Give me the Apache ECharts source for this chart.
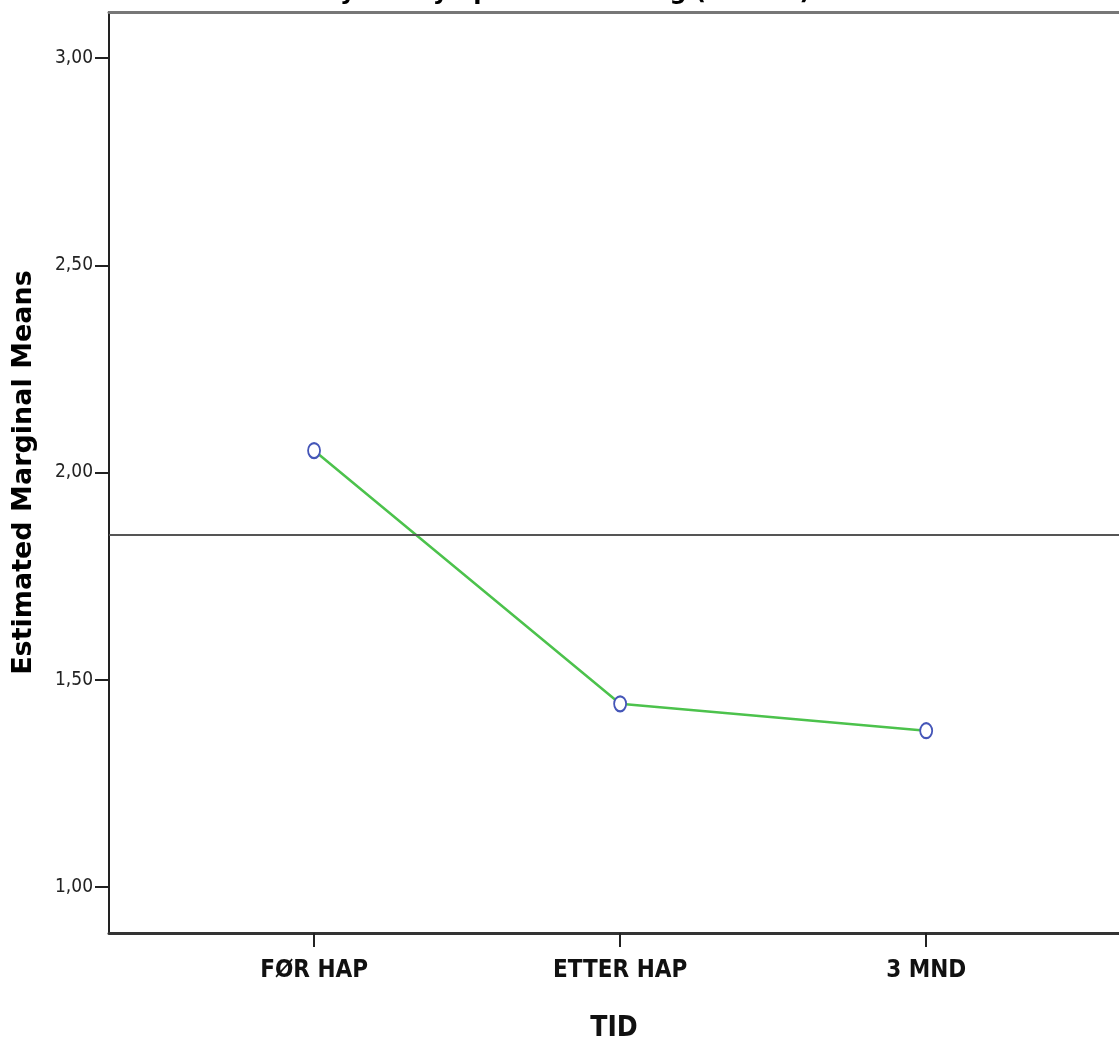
<!DOCTYPE html>
<html><head><meta charset="utf-8">
<script src="https://cdn.jsdelivr.net/npm/echarts@6/dist/echarts.min.js"></script>
<style>html,body{margin:0;padding:0;background:#fff}#c{width:1119px;height:1044px}</style>
</head><body><div id="c"></div>
<script>
const categories = ['FØR HAP', 'ETTER HAP', '3 MND'];
const means = [2.053, 1.442, 1.377];
const yTicks = [1.0, 1.5, 2.0, 2.5, 3.0];
const refValue = 1.85;
const titleText = 'Psykisk symptombelastning (SCL-25)';

const chart = echarts.init(document.getElementById('c'));
const narrow = '"Liberation Sans Narrow","DejaVu Sans Condensed","Roboto Condensed",sans-serif';
chart.setOption({
  animation: false,
  backgroundColor: '#fff',
  title: {
    text: titleText, left: 'center', top: -24,
    textStyle: {fontFamily: 'DejaVu Sans', fontWeight: 'bold', fontSize: 24, color: '#000'}
  },
  grid: {left: 109, right: 0, top: 12, bottom: 111, containLabel: false, outerBoundsMode: 'none'},
  xAxis: [{
    type: 'value', min: 0.33, max: 3.63,
    splitLine: {show: false},
    axisLine: {show: true, lineStyle: {color: '#333', width: 3}},
    axisTick: {show: true, customValues: [1, 2, 3], length: 14, lineStyle: {color: '#222', width: 2}},
    axisLabel: {customValues: [1, 2, 3], formatter: v => categories[Math.round(v) - 1] || '',
      fontFamily: narrow, fontWeight: 'bold', fontSize: 24, color: '#111', margin: 26},
    name: 'TID', nameLocation: 'middle', nameGap: 82,
    nameTextStyle: {fontFamily: narrow, fontWeight: 'bold', fontSize: 28, color: '#111'}
  }, {
    type: 'value', position: 'top', min: 0.33, max: 3.63,
    splitLine: {show: false},
    axisLine: {show: true, lineStyle: {color: '#777', width: 3}},
    axisTick: {show: false}, axisLabel: {show: false}
  }],
  yAxis: {
    type: 'value', min: 0.889, max: 3.111,
    splitLine: {show: false},
    axisLine: {show: true, lineStyle: {color: '#222', width: 2}},
    axisTick: {show: true, customValues: yTicks, length: 14, lineStyle: {color: '#222', width: 2}},
    axisLabel: {customValues: yTicks, formatter: v => v.toFixed(2).replace('.', ','),
      fontFamily: narrow, fontSize: 19, color: '#222', margin: 16},
    name: 'Estimated Marginal Means', nameLocation: 'middle', nameGap: 72,
    nameTextStyle: {fontFamily: 'DejaVu Sans', fontWeight: 'bold', fontSize: 27, color: '#000'}
  },
  series: [{
    type: 'line',
    data: means.map((v, i) => [i + 1, v]),
    symbol: 'emptyCircle', symbolSize: [12, 15],
    itemStyle: {color: '#4556b8', borderWidth: 1.8},
    lineStyle: {color: '#4cc24c', width: 2.5},
    markLine: {
      silent: true, symbol: 'none', label: {show: false},
      lineStyle: {color: '#555', width: 2, type: 'solid'},
      data: [{yAxis: refValue}]
    }
  }]
});
</script></body></html>
